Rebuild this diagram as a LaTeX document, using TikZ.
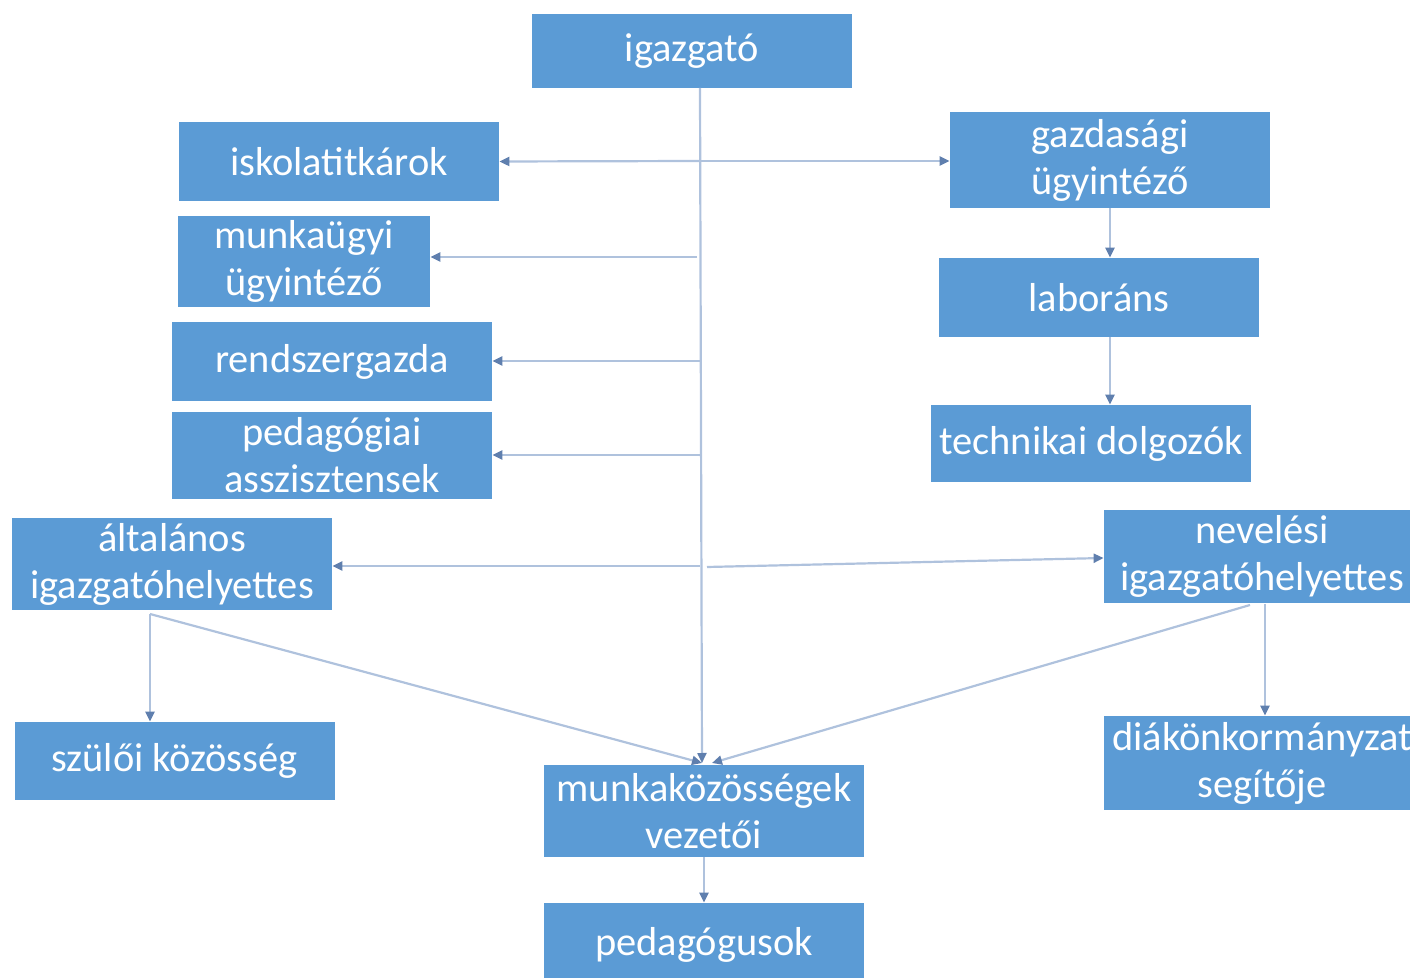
\documentclass[tikz,border=0pt]{standalone}
\usepackage{fontspec}
\setmainfont{Carlito}
\usetikzlibrary{arrows.meta}
\definecolor{boxblue}{HTML}{5B9BD5}
\definecolor{linec}{HTML}{AFC2DD}
\definecolor{tipc}{HTML}{5F7FAE}
\tikzset{
	box/.style={fill=boxblue,text=white,align=center,inner sep=0pt,
		minimum width=160pt,font=\fontsize{20.2}{23.5}\selectfont},
	conn/.style={linec,line width=1.1pt,-{Triangle[length=5pt,width=4.5pt,color=tipc]}},
	plain/.style={linec,line width=1.1pt}
}

\begin{document}
\begin{tikzpicture}[x=0.5pt,y=-0.5pt]
	\useasboundingbox (0,0) rectangle (1410,978);
	% bal oldali és középső dobozok
	\node[box,minimum height=37pt] (igazgato) at (692,51) {igazgató};
	\node[box,minimum height=39.5pt] (iskola) at (339,161.5) {iskolatitkárok};
	\node[box,minimum width=126pt,minimum height=45.5pt] (munkaugy) at (304,261.5) {munkaügyi\\ügyintéző};
	\node[box,minimum height=39.5pt] (rendszer) at (332,361.5) {rendszergazda};
	\node[box,minimum height=43.5pt] (pedasz) at (332,455.5) {pedagógiai\\asszisztensek};
	\node[box,minimum height=46pt] (altig) at (172,564) {általános\\igazgatóhelyettes};
	\node[box,minimum height=39pt] (szulo) at (174.5,761) {szülői közösség};
	\node[box,minimum height=46pt] (mkvez) at (704,811) {munkaközösségek\\vezetői};
	\node[box,minimum height=42pt] (pedag) at (704,945) {pedagógusok};
	% jobb oldali dobozok
	\node[box,minimum height=48pt] (gazd) at (1110,160) {gazdasági\\ügyintéző};
	\node[box,minimum height=39.5pt] (labor) at (1099,297.5) {laboráns};
	\node[box,minimum height=38.5pt] (techn) at (1091,443.5) {technikai dolgozók};
	\node[box,minimum width=158pt,minimum height=46.5pt] (nevig) at (1262,556.5) {nevelési\\igazgatóhelyettes};
	\node[box,minimum width=158pt,minimum height=47pt] (diak) at (1262,763) {diákönkormányzat\\segítője};
	% törzsvonal
	\coordinate (t0) at (700,88);
	\coordinate (t1) at (700,161);
	\coordinate (t2) at (697,257);
	\coordinate (t3) at (700,361);
	\coordinate (t4) at (700,455);
	\coordinate (t5) at (700,566);
	\coordinate (t5b) at (707,567);
	\coordinate (mk) at (702,763);
	\draw[conn] (t0) -- (mk);
	\draw[conn] (t1) -- (iskola.east);
	\draw[conn] (t1) -- (gazd.west |- t1);
	\draw[conn] (t2) -- (t2 -| munkaugy.east);
	\draw[conn] (t3) -- (t3 -| rendszer.east);
	\draw[conn] (t4) -- (t4 -| pedasz.east);
	\draw[conn] (t5) -- (t5 -| altig.east);
	\draw[conn] (t5b) -- (nevig.west |- 0,558);
	% helyettesek alatt
	\coordinate (a1) at (150,614);
	\coordinate (n1) at (1250,605);
	\coordinate (n2) at (1265,604);
	\draw[conn] (a1) -- (a1 |- szulo.north);
	\draw[conn] (a1) -- (mk);
	\draw[conn] (n1) -- (712,763);
	\draw[conn] (n2) -- (n2 |- diak.north);
	% jobb oldali lánc
	\draw[conn] (gazd.south) -- (gazd.south |- labor.north);
	\draw[conn] (gazd.south |- labor.south) -- (gazd.south |- techn.north);
	\draw[conn] (mkvez.south) -- (pedag.north);
\end{tikzpicture}
\end{document}
